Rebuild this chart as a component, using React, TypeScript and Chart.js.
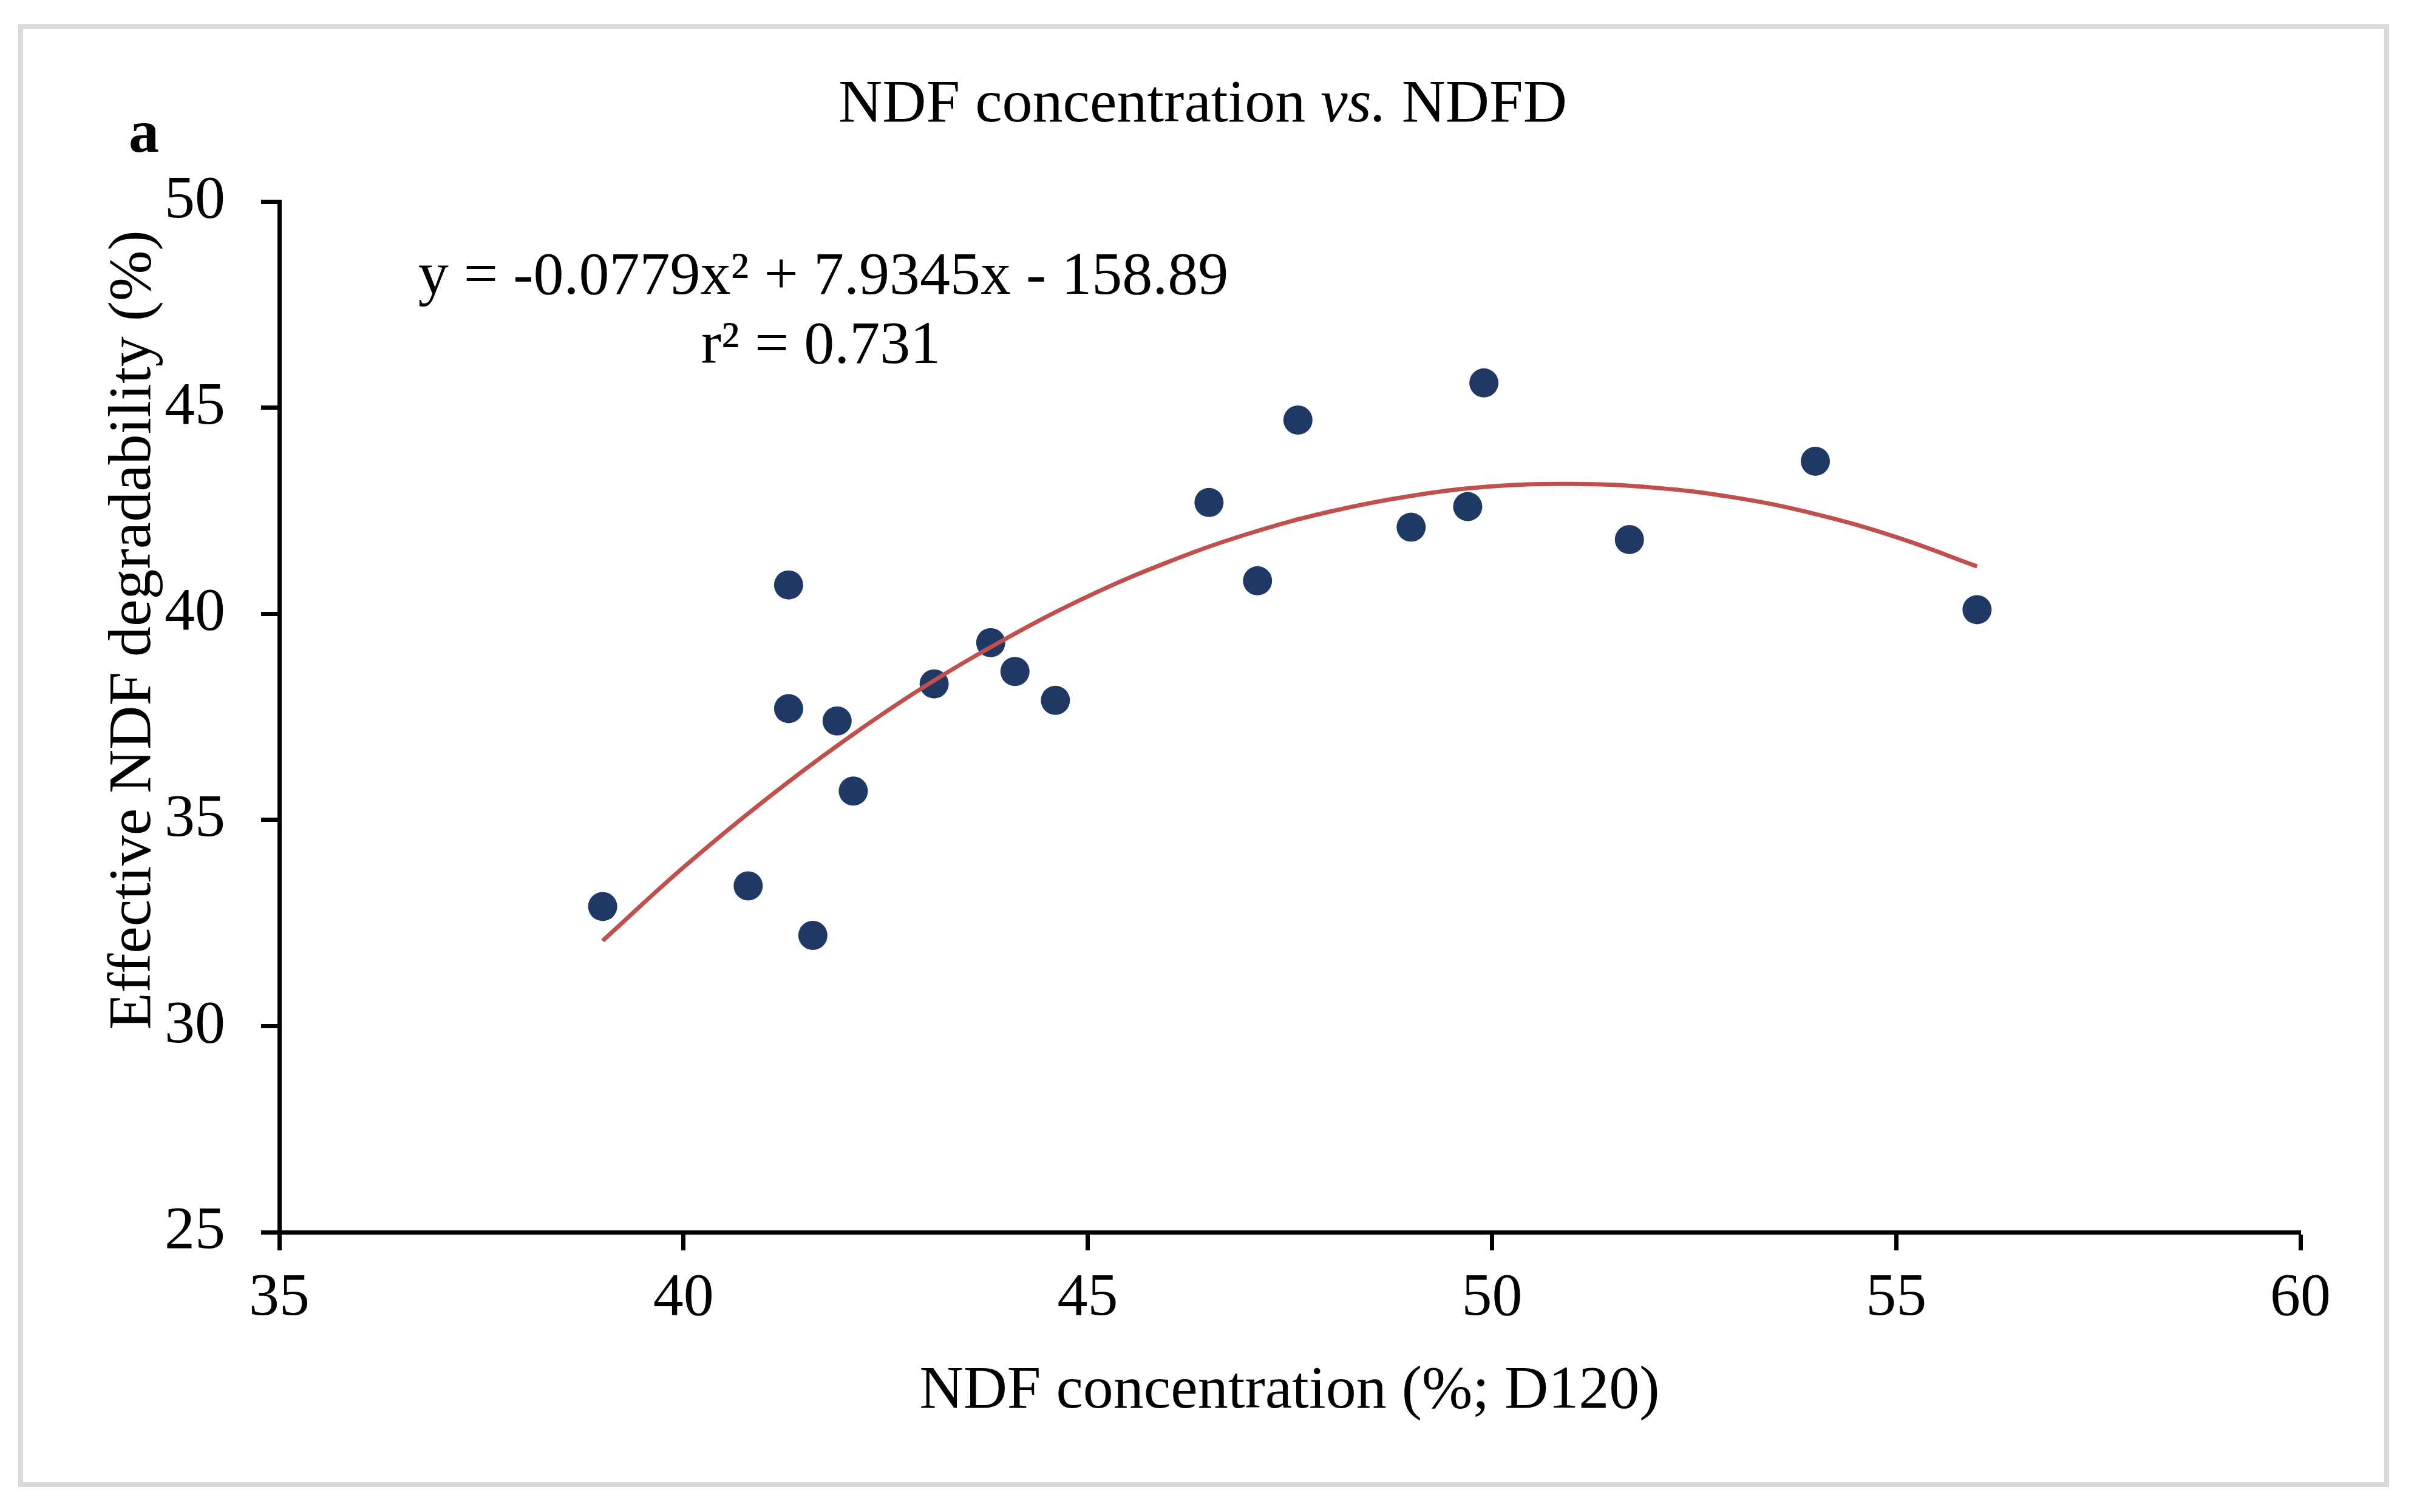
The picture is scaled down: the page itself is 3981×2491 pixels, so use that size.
import { Chart, registerables } from "chart.js";
import { useEffect, useRef } from "react";

Chart.register(...registerables);

// NDF concentration (%; D120) vs effective NDF degradability (%)
const ndfConc = [39.0, 40.8, 41.6, 41.3, 41.3, 41.9, 42.1, 43.1, 43.8, 44.1, 44.6, 46.5, 47.1, 47.6, 49.0, 49.7, 49.9, 51.7, 54.0, 56.0];
const ndfd = [32.9, 33.4, 32.2, 40.7, 37.7, 37.4, 35.7, 38.3, 39.3, 38.6, 37.9, 42.7, 40.8, 44.7, 42.1, 42.6, 45.6, 41.8, 43.7, 40.1];

// polynomial trendline
const trendX = [39, 40, 41, 42, 43, 44, 45, 46, 47, 48, 49, 50, 51, 52, 53, 54, 55, 56];
const trendY = [32.07, 33.85, 35.47, 36.94, 38.26, 39.41, 40.42, 41.26, 41.95, 42.48, 42.86, 43.09, 43.15, 43.06, 42.82, 42.42, 41.86, 41.15];

const xTicks = [35, 40, 45, 50, 55, 60];
const yTicks = [25, 30, 35, 40, 45, 50];

const W = 3981;
const H = 2491;
const SERIF = "'Liberation Serif', 'Times New Roman', serif";

const textPlugin = {
    id: "textPlugin",
    beforeDraw(chart: any) {
        const ctx = chart.ctx;
        ctx.save();
        ctx.fillStyle = "#ffffff";
        ctx.fillRect(0, 0, W, H);
        ctx.strokeStyle = "#d9d9d9";
        ctx.lineWidth = 8;
        ctx.strokeRect(34, 44, 3897, 2402);
        ctx.restore();
    },
    afterDraw(chart: any) {
        const ctx = chart.ctx;
        ctx.save();
        ctx.fillStyle = "#000000";
        ctx.textBaseline = "alphabetic";

        // title with italic "vs."
        const parts = [
            { t: "NDF concentration ", f: `100px ${SERIF}` },
            { t: "vs.", f: `italic 100px ${SERIF}` },
            { t: " NDFD", f: `100px ${SERIF}` },
        ];
        let total = 0;
        parts.forEach(p => {
            ctx.font = p.f;
            total += ctx.measureText(p.t).width;
        });
        let x = 1981 - total / 2;
        ctx.textAlign = "left";
        parts.forEach(p => {
            ctx.font = p.f;
            ctx.fillText(p.t, x, 200);
            x += ctx.measureText(p.t).width;
        });

        ctx.font = `bold 100px ${SERIF}`;
        ctx.fillText("a", 212, 250);

        ctx.font = `100px ${SERIF}`;
        ctx.textAlign = "center";
        ctx.fillText("y = -0.0779x² + 7.9345x - 158.89", 1356, 484);
        ctx.fillText("r² = 0.731", 1352, 598);

        ctx.fillText("NDF concentration (%; D120)", 2124, 2319);

        ctx.translate(247, 1038);
        ctx.rotate(-Math.PI / 2);
        ctx.fillText("Effective NDF degradability (%)", 0, 0);
        ctx.restore();
    },
};

export default function App() {
    const canvasRef = useRef<HTMLCanvasElement>(null);

    useEffect(() => {
        if (!canvasRef.current) return;
        const axisCommon = {
            type: "linear",
            grid: {
                drawOnChartArea: false,
                drawTicks: true,
                tickLength: 30,
                tickWidth: 7,
                tickColor: "#000000",
            },
            border: { display: true, color: "#000000", width: 7 },
        };
        const chart = new Chart(canvasRef.current, {
            type: "scatter",
            data: {
                datasets: [
                    {
                        type: "line",
                        label: "Trend",
                        data: trendX.map((v, i) => ({ x: v, y: trendY[i] })),
                        borderColor: "#c0504d",
                        borderWidth: 7,
                        pointRadius: 0,
                        tension: 0.4,
                        fill: false,
                        order: 0,
                    },
                    {
                        label: "NDFD",
                        data: ndfConc.map((v, i) => ({ x: v, y: ndfd[i] })),
                        backgroundColor: "#203864",
                        borderWidth: 0,
                        pointRadius: 24,
                        order: 1,
                    },
                ],
            },
            options: {
                animation: false,
                responsive: false,
                devicePixelRatio: 1,
                layout: { padding: { left: 0, top: 332, right: 192, bottom: 0 } },
                plugins: {
                    legend: { display: false },
                    tooltip: { enabled: false },
                    title: { display: false },
                },
                scales: {
                    x: {
                        ...axisCommon,
                        min: 35,
                        max: 60,
                        afterBuildTicks: (scale: any) => {
                            scale.ticks = xTicks.map(v => ({ value: v }));
                        },
                        afterFit: (scale: any) => {
                            scale.height = H - 2030;
                        },
                        ticks: {
                            color: "#000000",
                            padding: 20,
                            font: { family: SERIF, size: 100 },
                        },
                    },
                    y: {
                        ...axisCommon,
                        min: 25,
                        max: 50,
                        afterBuildTicks: (scale: any) => {
                            scale.ticks = yTicks.map(v => ({ value: v }));
                        },
                        afterFit: (scale: any) => {
                            scale.width = 460;
                        },
                        ticks: {
                            color: "#000000",
                            padding: 59,
                            font: { family: SERIF, size: 100 },
                        },
                    },
                },
            } as any,
            plugins: [textPlugin],
        } as any);

        return () => {
            chart.destroy();
        };
    }, []);

    return (
        <div style={{ position: "absolute", left: 0, top: 0, width: W, height: H, background: "#fff" }}>
            <canvas ref={canvasRef} width={W} height={H} style={{ width: W, height: H, display: "block" }} />
        </div>
    );
}
